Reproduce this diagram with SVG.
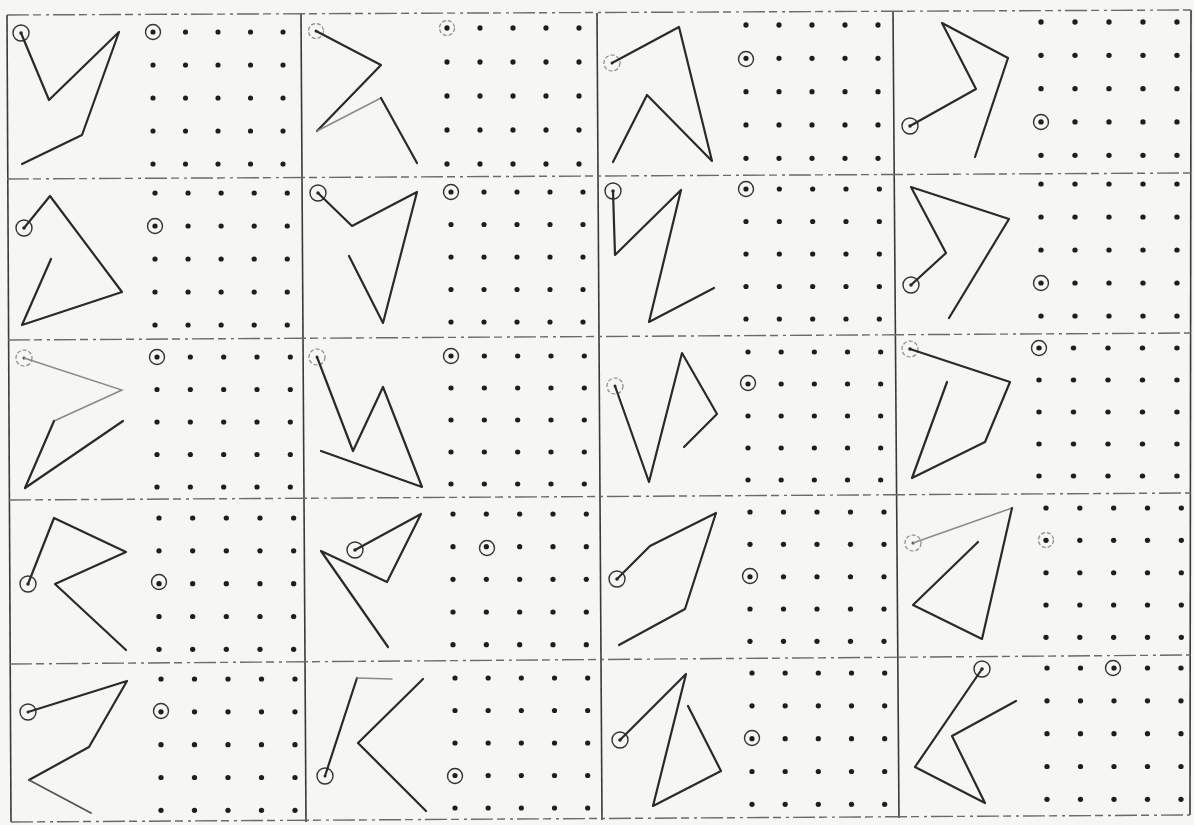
<svg xmlns="http://www.w3.org/2000/svg" xmlns:xlink="http://www.w3.org/1999/xlink" width="1194" height="825" viewBox="0 0 1194 825">
<style>
.bg{fill:#f6f6f4}
.vl{stroke:#3a3a3a;stroke-width:1.6;fill:none}
.hl{stroke:#6a6a6a;stroke-width:1.4;fill:none;stroke-dasharray:22 4 8 5 3 4}
.ln{stroke:#2a2a2a;stroke-width:2.2;fill:none;stroke-linejoin:round;stroke-linecap:round}
.fl{stroke:#8a8a8a;stroke-width:1.5;fill:none;stroke-linecap:round}
.d{fill:#1e1e1e}
.ring{fill:none;stroke:#333;stroke-width:1.4}
.fring{fill:none;stroke:#888;stroke-width:1.2;stroke-dasharray:4 2}
.cd{fill:#333}
</style>
<defs>
<g id="dots">
<circle class="d" cx="0" cy="0" r="2.6"/><circle class="d" cx="33" cy="0" r="2.6"/><circle class="d" cx="66" cy="0" r="2.6"/><circle class="d" cx="99" cy="0" r="2.6"/><circle class="d" cx="132" cy="0" r="2.6"/>
<circle class="d" cx="0" cy="33" r="2.6"/><circle class="d" cx="33" cy="33" r="2.6"/><circle class="d" cx="66" cy="33" r="2.6"/><circle class="d" cx="99" cy="33" r="2.6"/><circle class="d" cx="132" cy="33" r="2.6"/>
<circle class="d" cx="0" cy="66" r="2.6"/><circle class="d" cx="33" cy="66" r="2.6"/><circle class="d" cx="66" cy="66" r="2.6"/><circle class="d" cx="99" cy="66" r="2.6"/><circle class="d" cx="132" cy="66" r="2.6"/>
<circle class="d" cx="0" cy="99" r="2.6"/><circle class="d" cx="33" cy="99" r="2.6"/><circle class="d" cx="66" cy="99" r="2.6"/><circle class="d" cx="99" cy="99" r="2.6"/><circle class="d" cx="132" cy="99" r="2.6"/>
<circle class="d" cx="0" cy="132" r="2.6"/><circle class="d" cx="33" cy="132" r="2.6"/><circle class="d" cx="66" cy="132" r="2.6"/><circle class="d" cx="99" cy="132" r="2.6"/><circle class="d" cx="132" cy="132" r="2.6"/>
</g>
</defs>
<rect class="bg" x="0" y="0" width="1194" height="825"/>

<g id="frame">
<line class="vl" x1="7" y1="15" x2="11" y2="822"/>
<line class="vl" x1="301" y1="14" x2="306" y2="822"/>
<line class="vl" x1="597" y1="13" x2="602" y2="820"/>
<line class="vl" x1="893" y1="11" x2="899" y2="818"/>
<line class="vl" x1="1191" y1="10" x2="1190" y2="815"/>
<line class="hl" x1="7" y1="15" x2="1191" y2="10"/>
<line class="hl" x1="7" y1="179" x2="1191" y2="173"/>
<line class="hl" x1="8" y1="340" x2="1191" y2="333"/>
<line class="hl" x1="9" y1="500" x2="1191" y2="493"/>
<line class="hl" x1="10" y1="664" x2="1191" y2="655"/>
<line class="hl" x1="11" y1="822" x2="1190" y2="815"/>
</g>

<!-- Row 1 -->
<g id="r1c1">
<circle class="ring" cx="21" cy="33" r="8"/><circle class="cd" cx="21" cy="33" r="1.8"/>
<polyline class="ln" points="21,33 49,100 119,32 82,135 22,164"/>
<use xlink:href="#dots" transform="translate(153,32) scale(0.985,1)"/>
<circle class="ring" cx="153" cy="32" r="7.5"/>
</g>
<g id="r1c2">
<circle class="fring" cx="316" cy="31" r="7.5"/><circle class="cd" cx="316" cy="31" r="1.5"/>
<polyline class="ln" points="316,31 381,65 317,131"/>
<polyline class="fl" points="317,131 381,98"/>
<polyline class="ln" points="381,98 417,163"/>
<use xlink:href="#dots" transform="translate(447,28) scale(1,1.03)"/>
<circle class="fring" cx="447" cy="28" r="7.5"/>
</g>
<g id="r1c3">
<circle class="fring" cx="612" cy="63" r="8"/><circle class="cd" cx="612" cy="63" r="1.5"/>
<polyline class="ln" points="612,63 679,27 712,161 647,95 613,162"/>
<use xlink:href="#dots" transform="translate(746,25) scale(1,1.01)"/>
<circle class="ring" cx="746" cy="59" r="7.5"/>
</g>
<g id="r1c4">
<circle class="ring" cx="910" cy="126" r="8"/><circle class="cd" cx="910" cy="126" r="1.8"/>
<polyline class="ln" points="910,126 976,89 942,23 1008,58 975,157"/>
<use xlink:href="#dots" transform="translate(1041,22) scale(1.03,1.01)"/>
<circle class="ring" cx="1041" cy="122" r="7.5"/>
</g>

<!-- Row 2 -->
<g id="r2c1">
<circle class="ring" cx="24" cy="228" r="8"/><circle class="cd" cx="24" cy="228" r="1.8"/>
<polyline class="ln" points="24,228 50,196 122,292 22,325 51,259"/>
<use xlink:href="#dots" transform="translate(155,193) scale(1.002,1)"/>
<circle class="ring" cx="155" cy="226" r="7.5"/>
</g>
<g id="r2c2">
<circle class="ring" cx="318" cy="193" r="8"/><circle class="cd" cx="318" cy="193" r="1.8"/>
<polyline class="ln" points="318,193 352,226 417,192 383,323 349,256"/>
<use xlink:href="#dots" transform="translate(451,192) scale(1,0.985)"/>
<circle class="ring" cx="451" cy="192" r="7.5"/>
</g>
<g id="r2c3">
<circle class="ring" cx="613" cy="191" r="8"/><circle class="cd" cx="613" cy="191" r="1.8"/>
<polyline class="ln" points="613,191 615,255 681,190 649,322 714,288"/>
<use xlink:href="#dots" transform="translate(746,189) scale(1.01,0.985)"/>
<circle class="ring" cx="746" cy="189" r="7.5"/>
</g>
<g id="r2c4">
<circle class="ring" cx="911" cy="285" r="8"/><circle class="cd" cx="911" cy="285" r="1.8"/>
<polyline class="ln" points="911,285 946,253 911,187 1009,219 949,318"/>
<use xlink:href="#dots" transform="translate(1041,184) scale(1.03,1)"/>
<circle class="ring" cx="1041" cy="283" r="7.5"/>
</g>

<!-- Row 3 -->
<g id="r3c1">
<circle class="fring" cx="24" cy="358" r="8"/><circle class="cd" cx="24" cy="358" r="1.5"/>
<polyline class="fl" points="24,358 122,390 54,421"/>
<polyline class="ln" points="54,421 25,488"/>
<polyline class="ln" points="25,488 123,421"/>
<use xlink:href="#dots" transform="translate(157,357) scale(1.01,0.985)"/>
<circle class="ring" cx="157" cy="357" r="7.5"/>
</g>
<g id="r3c2">
<circle class="fring" cx="317" cy="357" r="8"/><circle class="cd" cx="317" cy="357" r="1.5"/>
<polyline class="ln" points="317,357 353,451 383,387 422,487 321,451"/>
<use xlink:href="#dots" transform="translate(451,356) scale(1.01,0.97)"/>
<circle class="ring" cx="451" cy="356" r="7.5"/>
</g>
<g id="r3c3">
<circle class="fring" cx="615" cy="386" r="8"/><circle class="cd" cx="615" cy="386" r="1.5"/>
<polyline class="ln" points="615,386 649,482 682,353 717,414 684,447"/>
<use xlink:href="#dots" transform="translate(748,352) scale(1.005,0.97)"/>
<circle class="ring" cx="748" cy="383" r="7.5"/>
</g>
<g id="r3c4">
<circle class="fring" cx="910" cy="349" r="8"/><circle class="cd" cx="910" cy="349" r="1.8"/>
<polyline class="ln" points="910,349 1010,382 985,442 912,478 947,382"/>
<use xlink:href="#dots" transform="translate(1039,348) scale(1.045,0.97)"/>
<circle class="ring" cx="1039" cy="348" r="7.5"/>
</g>

<!-- Row 4 -->
<g id="r4c1">
<circle class="ring" cx="28" cy="584" r="8"/><circle class="cd" cx="28" cy="584" r="1.8"/>
<polyline class="ln" points="28,584 54,518 126,552 55,584 126,650"/>
<use xlink:href="#dots" transform="translate(159,518) scale(1.02,0.995)"/>
<circle class="ring" cx="159" cy="582" r="7.5"/>
</g>
<g id="r4c2">
<circle class="ring" cx="355" cy="550" r="8"/><circle class="cd" cx="355" cy="550" r="1.8"/>
<polyline class="ln" points="355,550 421,514 387,582 321,551 388,647"/>
<use xlink:href="#dots" transform="translate(453,514) scale(1.01,0.99)"/>
<circle class="ring" cx="487" cy="548" r="7.5"/>
</g>
<g id="r4c3">
<circle class="ring" cx="617" cy="579" r="8"/><circle class="cd" cx="617" cy="579" r="1.8"/>
<polyline class="ln" points="617,579 650,546 716,513 685,609 619,645"/>
<use xlink:href="#dots" transform="translate(750,512) scale(1.015,0.98)"/>
<circle class="ring" cx="750" cy="576" r="7.5"/>
</g>
<g id="r4c4">
<circle class="fring" cx="913" cy="543" r="8"/><circle class="cd" cx="913" cy="543" r="1.5"/>
<polyline class="fl" points="913,543 1012,508"/>
<polyline class="ln" points="1012,508 982,639 913,605 978,542"/>
<use xlink:href="#dots" transform="translate(1046,508) scale(1.025,0.98)"/>
<circle class="fring" cx="1046" cy="540" r="7.5"/>
</g>

<!-- Row 5 -->
<g id="r5c1">
<circle class="ring" cx="28" cy="712" r="8"/><circle class="cd" cx="28" cy="712" r="1.5"/>
<polyline class="ln" points="28,712 127,681 89,747 29,780"/>
<polyline class="ln" style="stroke-width:1.8;stroke:#555" points="29,780 91,813"/>
<use xlink:href="#dots" transform="translate(161,679) scale(1.015,0.995)"/>
<circle class="ring" cx="161" cy="711" r="7.5"/>
</g>
<g id="r5c2">
<circle class="ring" cx="325" cy="776" r="8"/><circle class="cd" cx="325" cy="776" r="1.5"/>
<polyline class="ln" points="325,776 357,678"/>
<polyline class="fl" points="357,678 392,679"/>
<polyline class="ln" points="423,679 358,743 426,811"/>
<use xlink:href="#dots" transform="translate(455,678) scale(1.005,0.985)"/>
<circle class="ring" cx="455" cy="776" r="7.5"/>
</g>
<g id="r5c3">
<circle class="ring" cx="620" cy="740" r="8"/><circle class="cd" cx="620" cy="740" r="1.8"/>
<polyline class="ln" points="620,740 686,674 653,806 721,771 688,706"/>
<use xlink:href="#dots" transform="translate(752,673) scale(1.005,0.995)"/>
<circle class="ring" cx="752" cy="738" r="7.5"/>
</g>
<g id="r5c4">
<circle class="ring" cx="982" cy="669" r="8"/><circle class="cd" cx="982" cy="669" r="1.8"/>
<polyline class="ln" points="982,669 915,767 985,803 952,736 1016,701"/>
<use xlink:href="#dots" transform="translate(1047,668) scale(1.015,0.995)"/>
<circle class="ring" cx="1113" cy="668" r="7.5"/>
</g>
</svg>
